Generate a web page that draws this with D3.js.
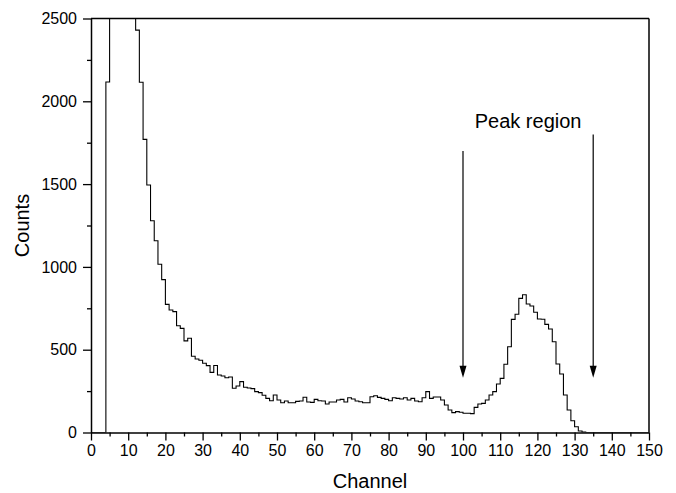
<!DOCTYPE html>
<html>
<head>
<meta charset="utf-8">
<script src="https://cdn.jsdelivr.net/npm/d3@7"></script>
<style>
  body { margin: 0; background: #fff; }
  text { font-family: Arial, "Liberation Sans", sans-serif; fill: #000; }
</style>
</head>
<body>
<div id="chart"></div>
<script>
// counts per channel, channel 0..149 (bins 5-11 run off the top of the plot)
var counts = [
  0, 0, 0, 0, 2117, 4800, 7600, 8900, 8200, 6400,
  4700, 3400, 2430, 2115, 1770, 1495, 1279, 1158, 1016, 923,
  774, 740, 730, 645, 629, 553, 569, 460, 444, 436,
  418, 404, 363, 405, 347, 341, 331, 335, 267, 281,
  307, 273, 269, 265, 247, 241, 225, 206, 192, 226,
  196, 180, 190, 180, 180, 188, 190, 213, 184, 182,
  200, 192, 190, 172, 184, 184, 196, 200, 184, 210,
  202, 190, 186, 180, 180, 216, 222, 212, 206, 200,
  192, 210, 206, 202, 210, 196, 206, 190, 186, 210,
  247, 206, 214, 214, 196, 166, 136, 120, 126, 122,
  116, 116, 114, 152, 172, 176, 196, 226, 247, 293,
  327, 412, 518, 683, 714, 810, 832, 776, 764, 726,
  685, 684, 653, 625, 548, 414, 353, 226, 136, 71,
  35, 9, 2, 0, 0, 0, 0, 0, 0, 0,
  0, 0, 0, 0, 0, 0, 0, 0, 0, 0
]
var xMajor = d3.range(0, 151, 10)
var xMinor = d3.range(5, 150, 10)
var yMajor = [0, 500, 1000, 1500, 2000, 2500]
var yMinor = [250, 750, 1250, 1750, 2250]
// arrows marking the peak region: channel, top count, tip count
var arrows = [
  {ch: 100, from: 1700, to: 330},
  {ch: 135, from: 1800, to: 330}
]
var peakLabel = {text: "Peak region", ch: 117.5, count: 1840}

var W = 676, H = 493
var margin = {top: 18.5, right: 27, bottom: 60.5, left: 91}
var width = W - margin.left - margin.right
var height = H - margin.top - margin.bottom

var svg = d3.select("#chart").append("svg")
    .attr("width", W).attr("height", H)
var g = svg.append("g")
    .attr("transform", "translate(" + margin.left + "," + margin.top + ")")

var x = d3.scaleLinear().domain([0, 150]).range([0, width])
var y = d3.scaleLinear().domain([0, 2500]).range([height, 0])

svg.append("defs").append("clipPath").attr("id", "plotclip")
    .append("rect").attr("width", width).attr("height", height)

// histogram as a step line
var pts = counts.map(function(v, i){ return [i, v] })
pts.push([150, counts[counts.length - 1]])
var line = d3.line()
    .x(function(d){ return x(d[0]) })
    .y(function(d){ return y(d[1]) })
    .curve(d3.curveStepAfter)
g.append("path")
    .attr("clip-path", "url(#plotclip)")
    .attr("d", line(pts))
    .attr("fill", "none")
    .attr("stroke", "#000")
    .attr("stroke-width", 1.1)

// frame top/right
g.append("line").attr("x1", 0).attr("x2", width).attr("y1", 0).attr("y2", 0)
    .attr("stroke", "#000").attr("stroke-width", 1.5)
g.append("line").attr("x1", width).attr("x2", width).attr("y1", 0).attr("y2", height)
    .attr("stroke", "#000").attr("stroke-width", 1.5)

// axes
g.append("g").attr("transform", "translate(0," + height + ")")
    .call(d3.axisBottom(x).tickValues(xMajor).tickSize(8).tickPadding(4).tickSizeOuter(0))
g.append("g").attr("transform", "translate(0," + height + ")")
    .call(d3.axisBottom(x).tickValues(xMinor).tickSize(4).tickFormat("").tickSizeOuter(0))
    .select(".domain").remove()
g.append("g")
    .call(d3.axisLeft(y).tickValues(yMajor).tickSize(8).tickPadding(6).tickSizeOuter(0)
        .tickFormat(d3.format("d")))
g.append("g")
    .call(d3.axisLeft(y).tickValues(yMinor).tickSize(4).tickFormat("").tickSizeOuter(0))
    .select(".domain").remove()

g.selectAll(".domain").attr("stroke-width", 1.5)
g.selectAll(".tick line").attr("stroke-width", 1.3)
g.selectAll(".tick text").style("font-size", "16px")
    .style("font-family", "Arial, 'Liberation Sans', sans-serif")

// axis titles
svg.append("text").attr("x", margin.left + width / 2).attr("y", 488)
    .attr("text-anchor", "middle").style("font-size", "20px").text("Channel")
svg.append("text")
    .attr("transform", "translate(29," + (margin.top + height / 2) + ") rotate(-90)")
    .attr("text-anchor", "middle").style("font-size", "20px").text("Counts")

// arrows
arrows.forEach(function(a){
    var ax = x(a.ch), y1 = y(a.from), y2 = y(a.to)
    g.append("line").attr("x1", ax).attr("x2", ax).attr("y1", y1).attr("y2", y2 - 10)
        .attr("stroke", "#000").attr("stroke-width", 1.2)
    g.append("path")
        .attr("d", "M" + (ax - 3.5) + "," + (y2 - 12) + "L" + (ax + 3.5) + "," + (y2 - 12) + "L" + ax + "," + y2 + "Z")
        .attr("fill", "#000")
})

g.append("text").attr("x", x(peakLabel.ch)).attr("y", y(peakLabel.count))
    .attr("text-anchor", "middle").style("font-size", "20px").text(peakLabel.text)
</script>
</body>
</html>
